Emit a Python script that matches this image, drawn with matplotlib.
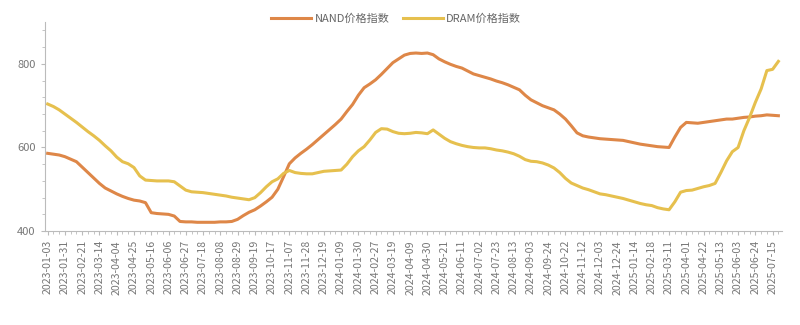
import pandas as pd
import matplotlib
matplotlib.use("Agg")
import matplotlib.pyplot as plt
from matplotlib.ticker import MultipleLocator

plt.rcParams['font.family'] = ['Noto Sans CJK SC', 'DejaVu Sans']

# weekly observation dates (holiday weeks are missing in the source)
skipped_weeks = ["2023-01-24", "2023-10-03", "2024-02-13", "2024-10-01",
                 "2025-01-28", "2025-02-04"]
all_weeks = pd.date_range("2023-01-03", "2025-07-22", freq="7D")
dates = [d for d in all_weeks if d.strftime("%Y-%m-%d") not in skipped_weeks]
date_labels = [d.strftime("%Y-%m-%d") for d in dates]

nand = [586, 584, 582, 578, 572, 566, 553, 540, 527, 514,
        503, 496, 489, 483, 478, 474, 472, 468, 444, 442,
        441, 440, 436, 423, 422, 422, 421, 421, 421, 421,
        422, 422, 423, 428, 437, 445, 451, 460, 470, 481,
        500, 530, 561, 575, 586, 596, 607, 619, 631, 643,
        655, 668, 686, 703, 725, 743, 752, 762, 775, 789,
        803, 812, 821, 825, 826, 825, 826, 822, 812, 805,
        799, 794, 790, 783, 776, 772, 768, 764, 759, 755,
        750, 744, 738, 725, 714, 707, 700, 695, 690, 680,
        668, 652, 635, 628, 625, 623, 621, 620, 619, 618,
        617, 614, 611, 608, 606, 604, 602, 601, 600, 625,
        648, 660, 659, 658, 660, 662, 664, 666, 668, 668,
        670, 672, 673, 675, 676, 678, 677, 676]

dram = [704, 698, 690, 680, 670, 660, 649, 638, 628, 617,
        604, 592, 577, 566, 561, 552, 532, 522, 521, 520,
        520, 520, 518, 508, 498, 494, 493, 492, 490, 488,
        486, 484, 481, 479, 477, 475, 480, 492, 506, 518,
        525, 538, 545, 540, 538, 537, 537, 540, 543, 544,
        545, 546, 560, 578, 592, 602, 618, 636, 645, 644,
        638, 634, 633, 634, 636, 635, 633, 642, 632, 622,
        614, 609, 605, 602, 600, 599, 599, 597, 594, 592,
        589, 585, 579, 571, 567, 566, 563, 558, 551, 540,
        526, 515, 509, 503, 499, 494, 489, 487, 484, 481,
        478, 474, 470, 466, 463, 461, 456, 453, 451, 470,
        493, 497, 498, 502, 506, 509, 514, 540, 568, 590,
        600, 640, 672, 708, 740, 784, 787, 806]

series_names = ["NAND价格指数", "DRAM价格指数"]
colors = ["#DE8748", "#E6C04E"]

fig = plt.figure(figsize=(8, 3.25), dpi=100)
ax = fig.add_axes([0.056, 0.289, 0.922, 0.643])

x = list(range(len(dates)))
ax.plot(x, nand, color=colors[0], lw=2.2, label=series_names[0])
ax.plot(x, dram, color=colors[1], lw=2.2, label=series_names[1])

ax.set_xlim(-0.5, len(dates) - 0.3)
ax.set_ylim(400, 900)
ax.yaxis.set_major_locator(MultipleLocator(200))
ax.yaxis.set_minor_locator(MultipleLocator(40))

ax.set_xticks(x[::3])
ax.set_xticklabels(date_labels[::3], rotation=90, fontsize=7.6, color="#777777")
ax.set_xticks(x, minor=True)
ax.tick_params(axis="y", labelsize=8, labelcolor="#777777")
ax.tick_params(which="both", color="#BBBBBB", length=3)
ax.tick_params(which="minor", length=2)

for side in ["top", "right"]:
    ax.spines[side].set_visible(False)
for side in ["left", "bottom"]:
    ax.spines[side].set_color("#BBBBBB")

fig.legend(loc="center", bbox_to_anchor=(0.495, 1 - 19 / 325), ncol=2,
           frameon=False, fontsize=8, handlelength=3.6, handletextpad=0.3,
           columnspacing=1.2, labelcolor="#666666")

fig.savefig("out.png")
